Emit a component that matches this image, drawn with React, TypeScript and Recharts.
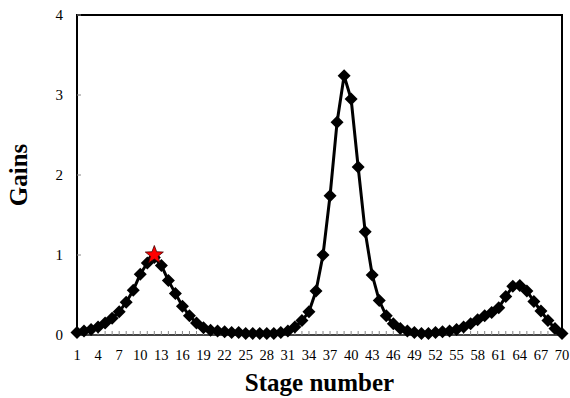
import React from "react";
import { ComposedChart, Line, Scatter, XAxis, YAxis, ReferenceArea } from "recharts";

// stage numbers (categories)
const stages = [
  1, 2, 3, 4, 5, 6, 7, 8, 9, 10, 11, 12, 13, 14, 15, 16, 17, 18, 19, 20,
  21, 22, 23, 24, 25, 26, 27, 28, 29, 30, 31, 32, 33, 34, 35, 36, 37, 38, 39, 40,
  41, 42, 43, 44, 45, 46, 47, 48, 49, 50, 51, 52, 53, 54, 55, 56, 57, 58, 59, 60,
  61, 62, 63, 64, 65, 66, 67, 68, 69, 70,
];

// gain per stage
const gains = [
  0.03, 0.05, 0.07, 0.1, 0.15, 0.21, 0.29, 0.41, 0.56, 0.76,
  0.9, 0.97, 0.87, 0.68, 0.52, 0.36, 0.24, 0.15, 0.09, 0.06,
  0.05, 0.04, 0.03, 0.03, 0.02, 0.02, 0.02, 0.02, 0.02, 0.03,
  0.05, 0.1, 0.18, 0.29, 0.55, 1.0, 1.74, 2.66, 3.24, 2.95,
  2.1, 1.29, 0.75, 0.43, 0.24, 0.14, 0.08, 0.05, 0.03, 0.02,
  0.02, 0.03, 0.04, 0.05, 0.07, 0.1, 0.14, 0.19, 0.24, 0.28,
  0.34, 0.48, 0.61, 0.62, 0.55, 0.42, 0.3, 0.18, 0.08, 0.02,
];

// highlighted maximum (red star)
const starStages = [12];
const starGains = [1.0];

const xLabels = [1, 4, 7, 10, 13, 16, 19, 22, 25, 28, 31, 34, 37, 40, 43, 46, 49, 52, 55, 58, 61, 64, 67, 70];
const yTicks = [0, 1, 2, 3, 4];

const data = stages.map((s, i) => ({ stage: s, gain: gains[i] }));
const starData = starStages.map((s, i) => ({ stage: s, gain: starGains[i] }));

const FONT = "'Liberation Serif', 'Times New Roman', serif";

const Diamond = (props: any) => {
  const { cx, cy, index } = props;
  if (cx == null || cy == null) return null;
  const r = 6.5;
  return (
    <polygon
      key={`d-${index}`}
      points={`${cx},${cy - r} ${cx + r},${cy} ${cx},${cy + r} ${cx - r},${cy}`}
      fill="#000"
    />
  );
};

const Star = (props: any) => {
  const { cx, cy } = props;
  if (cx == null || cy == null) return null;
  const outer = 9.5;
  const inner = 4;
  const pts: string[] = [];
  for (let k = 0; k < 10; k++) {
    const r = k % 2 === 0 ? outer : inner;
    const a = -Math.PI / 2 + (k * Math.PI) / 5;
    pts.push(`${cx + r * Math.cos(a)},${cy + r * Math.sin(a)}`);
  }
  return <polygon points={pts.join(" ")} fill="#ff0000" stroke="#400" strokeWidth={0.8} />;
};

export default function App() {
  return (
    <div style={{ position: "absolute", left: 0, top: 0, width: 570, height: 398, background: "#fff" }}>
      <ComposedChart width={570} height={398} data={data} margin={{ top: 15, right: 8, left: 0, bottom: 0 }}>
        <XAxis
          dataKey="stage"
          type="number"
          domain={[1, 70]}
          ticks={stages}
          interval={0}
          height={63}
          tickFormatter={(v: number) => (xLabels.includes(v) ? String(v) : "")}
          tick={{ fontFamily: FONT, fontSize: 14.5, fill: "#000" }}
          tickSize={-4}
          tickMargin={19}
          tickLine={{ stroke: "#888" }}
          axisLine={{ stroke: "#888" }}
          label={{
            content: (p: any) => {
              const vb = p.viewBox;
              return (
                <text
                  x={vb.x + vb.width / 2}
                  y={391}
                  textAnchor="middle"
                  fontFamily={FONT}
                  fontSize={25}
                  fontWeight="bold"
                  fill="#000"
                >
                  Stage number
                </text>
              );
            },
          }}
        />
        <YAxis
          type="number"
          domain={[0, 4]}
          ticks={yTicks}
          width={77}
          tick={{ fontFamily: FONT, fontSize: 15, fill: "#000" }}
          tickSize={-4}
          tickMargin={18}
          tickLine={{ stroke: "#888" }}
          axisLine={{ stroke: "#000", strokeWidth: 2 }}
          label={{
            content: (p: any) => {
              const vb = p.viewBox;
              const cy = vb.y + vb.height / 2;
              return (
                <text
                  x={27}
                  y={cy}
                  transform={`rotate(-90, 27, ${cy})`}
                  textAnchor="middle"
                  fontFamily={FONT}
                  fontSize={25}
                  fontWeight="bold"
                  fill="#000"
                >
                  Gains
                </text>
              );
            },
          }}
        />
        <ReferenceArea x1={1} x2={70} y1={0} y2={4} fill="none" fillOpacity={0} stroke="#000" strokeWidth={2} />
        <Line
          type="linear"
          dataKey="gain"
          stroke="#000"
          strokeWidth={3}
          dot={Diamond}
          activeDot={false}
          isAnimationActive={false}
        />
        <Scatter data={starData} dataKey="gain" shape={Star} isAnimationActive={false} />
      </ComposedChart>
    </div>
  );
}
